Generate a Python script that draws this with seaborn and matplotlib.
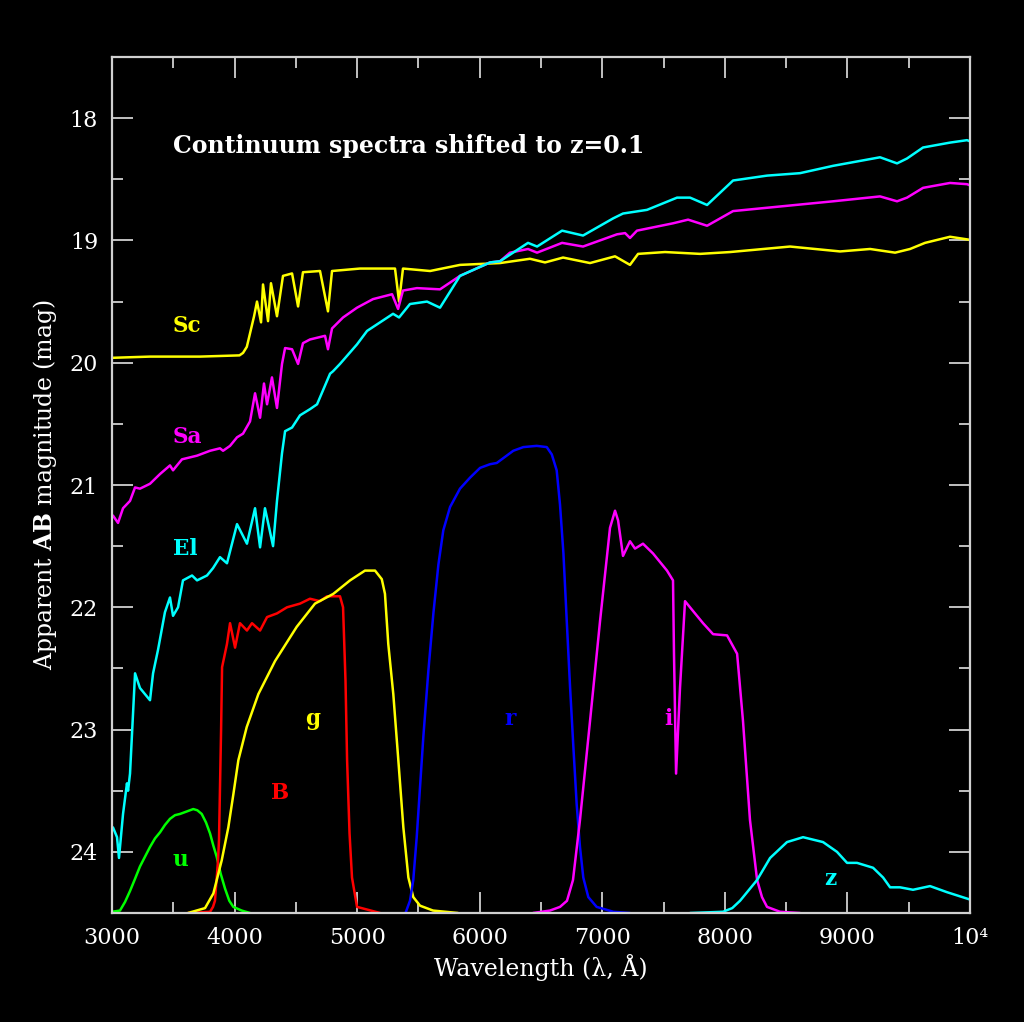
import matplotlib
matplotlib.use("Agg")
import matplotlib.pyplot as plt
from matplotlib.ticker import MultipleLocator, FixedLocator
import seaborn as sns
import pandas as pd

# ---------------- data (wavelength in Angstrom, AB magnitude) ----------------
sc_wave = [3000, 3310, 3718, 4040, 4069, 4100, 4126, 4159, 4183, 4216, 4232, 4273, 4297, 4346, 4395,
           4469, 4518, 4558, 4697, 4762, 4795, 5023, 5309, 5342, 5374, 5595, 5840,
           6166, 6410, 6533, 6680, 6900, 7104, 7226, 7292, 7512, 7798, 8042, 8532,
           8940, 9185, 9389, 9511, 9633, 9837, 10000]
sc_mag = [19.96, 19.95, 19.95, 19.94, 19.92, 19.87, 19.76, 19.62, 19.50, 19.67, 19.36, 19.66, 19.35, 19.62, 19.29,
          19.27, 19.54, 19.26, 19.25, 19.58, 19.25, 19.23, 19.23, 19.50, 19.23, 19.25, 19.20,
          19.185, 19.15, 19.18, 19.14, 19.185, 19.13, 19.20, 19.11, 19.095, 19.11, 19.095, 19.05,
          19.09, 19.07, 19.10, 19.07, 19.02, 18.97, 18.995]

sa_wave = [3008, 3049, 3090, 3147, 3188, 3228, 3310, 3392, 3473, 3498, 3530, 3571, 3694, 3800,
           3881, 3906, 3963, 4020, 4069, 4126, 4167, 4208, 4240, 4265, 4305, 4346, 4387, 4412,
           4469, 4518, 4558, 4615, 4738, 4762, 4795, 4885, 4999, 5129, 5285, 5334, 5374, 5488,
           5676, 5839, 6084, 6166, 6247, 6394, 6468, 6672, 6843, 7120, 7186, 7226, 7283, 7577,
           7700, 7855, 8067, 8475, 8883, 9266, 9405, 9486, 9617, 9837, 9976, 10000]
sa_mag = [21.25, 21.31, 21.19, 21.13, 21.02, 21.03, 20.99, 20.91, 20.84, 20.88, 20.84, 20.79, 20.76, 20.72,
          20.70, 20.72, 20.68, 20.61, 20.58, 20.48, 20.25, 20.45, 20.17, 20.34, 20.12, 20.37, 20.01, 19.88,
          19.89, 20.01, 19.84, 19.81, 19.78, 19.89, 19.72, 19.63, 19.55, 19.48, 19.44, 19.56, 19.41, 19.39,
          19.40, 19.29, 19.18, 19.17, 19.10, 19.07, 19.10, 19.02, 19.05, 18.95, 18.94, 18.98, 18.92, 18.86,
          18.83, 18.88, 18.76, 18.72, 18.68, 18.64, 18.68, 18.65, 18.57, 18.53, 18.54, 18.55]

el_wave = [3008, 3041, 3057, 3090, 3122, 3131, 3147, 3188, 3228, 3310, 3335, 3375, 3432, 3473,
           3498, 3539, 3579, 3653, 3694, 3775, 3824, 3881, 3938, 4020, 4101, 4167, 4208, 4248,
           4314, 4346, 4387, 4412, 4469, 4534, 4615, 4673, 4779, 4803, 4860, 4999, 5081, 5187,
           5293, 5342, 5431, 5570, 5676, 5839, 6084, 6166, 6394, 6468, 6672, 6843, 7088, 7169,
           7365, 7610, 7716, 7855, 8067, 8344, 8613, 8883, 9266, 9405, 9486, 9617, 9837, 9976, 10000]
el_mag = [23.80, 23.88, 24.05, 23.69, 23.44, 23.50, 23.36, 22.54, 22.66, 22.76, 22.54, 22.35, 22.04, 21.92,
          22.07, 22.00, 21.78, 21.74, 21.78, 21.74, 21.68, 21.59, 21.64, 21.32, 21.48, 21.19, 21.51, 21.19,
          21.50, 21.13, 20.74, 20.56, 20.53, 20.43, 20.38, 20.34, 20.09, 20.07, 20.01, 19.85, 19.74, 19.67,
          19.60, 19.63, 19.52, 19.50, 19.55, 19.29, 19.18, 19.17, 19.02, 19.05, 18.92, 18.96, 18.82, 18.78,
          18.75, 18.65, 18.65, 18.71, 18.51, 18.47, 18.45, 18.39, 18.32, 18.37, 18.33, 18.24, 18.20, 18.18, 18.19]

u_wave = [3000, 3065, 3106, 3147, 3188, 3228, 3269, 3310, 3351, 3392, 3432, 3473, 3514, 3555,
          3609, 3663, 3696, 3732, 3767, 3800, 3827, 3854, 3887, 3922, 3957, 3990, 4058, 4126]
u_mag = [24.49, 24.48, 24.41, 24.32, 24.22, 24.12, 24.04, 23.96, 23.89, 23.84, 23.78, 23.73, 23.70, 23.69,
         23.67, 23.65, 23.66, 23.69, 23.76, 23.85, 23.95, 24.04, 24.18, 24.30, 24.40, 24.45, 24.48, 24.50]

b_wave = [3620, 3800, 3824, 3840, 3865, 3873, 3890, 3898, 3938, 3963, 4004, 4044, 4101, 4142, 4208, 4265,
          4346, 4428, 4534, 4615, 4697, 4754, 4860, 4885, 4905, 4918, 4938, 4958, 4999, 5187]
b_mag = [24.50, 24.49, 24.45, 24.40, 24.07, 23.90, 23.00, 22.49, 22.30, 22.13, 22.33, 22.13, 22.19, 22.13, 22.19, 22.08,
         22.05, 22.00, 21.97, 21.93, 21.95, 21.91, 21.91, 22.00, 22.60, 23.25, 23.85, 24.21, 24.45, 24.50]

g_wave = [3620, 3759, 3827, 3895, 3949, 3990, 4031, 4099, 4194, 4330, 4507, 4656, 4806, 4942,
          5064, 5146, 5201, 5227, 5254, 5295, 5336, 5377, 5418, 5458, 5513, 5619, 5823]
g_mag = [24.50, 24.46, 24.34, 24.07, 23.80, 23.53, 23.25, 22.98, 22.71, 22.44, 22.16, 21.97, 21.89, 21.78,
         21.70, 21.70, 21.77, 21.89, 22.30, 22.71, 23.25, 23.80, 24.21, 24.37, 24.44, 24.48, 24.50]

r_wave = [5391, 5431, 5458, 5486, 5513, 5540, 5581, 5622, 5663, 5703, 5758, 5839, 5921, 6003,
          6084, 6139, 6193, 6274, 6356, 6465, 6547, 6588, 6628, 6655, 6683, 6710, 6737, 6764,
          6791, 6818, 6845, 6886, 6954, 7090, 7226]
r_mag = [24.51, 24.40, 24.23, 23.88, 23.47, 23.06, 22.52, 22.05, 21.65, 21.37, 21.18, 21.03, 20.94, 20.86,
         20.83, 20.82, 20.78, 20.72, 20.69, 20.68, 20.69, 20.75, 20.88, 21.16, 21.56, 22.11, 22.65, 23.14,
         23.61, 23.96, 24.21, 24.37, 24.45, 24.49, 24.50]

i_wave = [6435, 6573, 6655, 6712, 6761, 6818, 6900, 6982, 7063, 7104, 7129, 7169, 7226, 7267, 7332, 7414, 7528,
          7577, 7585, 7602, 7634, 7675, 7740, 7822, 7904, 8018, 8100, 8148, 8205, 8263, 8303, 8344, 8450, 8613]
i_mag = [24.50, 24.48, 24.45, 24.40, 24.23, 23.74, 22.93, 22.11, 21.35, 21.21, 21.29, 21.58, 21.46, 21.52, 21.48, 21.56, 21.70,
         21.78, 22.38, 23.36, 22.66, 21.95, 22.03, 22.13, 22.22, 22.23, 22.38, 22.93, 23.74, 24.23, 24.37, 24.45, 24.49, 24.50]

z_wave = [7716, 7985, 8060, 8124, 8263, 8369, 8507, 8638, 8801, 8915, 8997, 9078, 9209, 9291, 9348, 9429,
          9535, 9674, 9813, 10000]
z_mag = [24.50, 24.49, 24.46, 24.40, 24.23, 24.05, 23.92, 23.88, 23.92, 24.00, 24.09, 24.09, 24.13, 24.21, 24.29, 24.29,
         24.31, 24.28, 24.33, 24.39]

label_names = ["Sc", "Sa", "El", "u", "B", "g", "r", "i", "z"]
label_wave = [3612, 3612, 3596, 3555, 4371, 4640, 6247, 7537, 8858]
label_mag = [19.70, 20.61, 21.52, 24.07, 23.52, 22.91, 22.91, 22.91, 24.22]

x_ticks = [3000, 4000, 5000, 6000, 7000, 8000, 9000, 10000]
x_ticklabels = ["3000", "4000", "5000", "6000", "7000", "8000", "9000", "10\u2074"]
y_ticks = [18, 19, 20, 21, 22, 23, 24]

title_text = "Continuum spectra shifted to z=0.1"
xlabel_text = "Wavelength (λ, Å)"
ylabel_text = r"Apparent $\mathbf{AB}$ magnitude (mag)"

# ---------------- style ----------------
YEL, MAG, CYA, GRN, RED, BLU = "#ffff00", "#ff00ff", "#00ffff", "#00ff00", "#ff0000", "#0000ff"
FRAME = "#d0d0d0"

sns.set_theme(style="dark")
plt.rcParams["font.family"] = ["DejaVu Serif", "DejaVu Sans"]
plt.rcParams["mathtext.fontset"] = "dejavuserif"

fig = plt.figure(figsize=(10.24, 10.22), dpi=100, facecolor="black")
ax = fig.add_axes([112 / 1024, 109 / 1022, 858 / 1024, 856 / 1022])
ax.set_facecolor("black")

curves = [
    (sc_wave, sc_mag, YEL), (sa_wave, sa_mag, MAG), (el_wave, el_mag, CYA),
    (u_wave, u_mag, GRN), (b_wave, b_mag, RED), (g_wave, g_mag, YEL),
    (r_wave, r_mag, BLU), (i_wave, i_mag, MAG), (z_wave, z_mag, CYA),
]
for w, m, c in curves:
    df = pd.DataFrame({"wave": w, "mag": m})
    sns.lineplot(data=df, x="wave", y="mag", color=c, linewidth=1.8,
                 sort=False, estimator=None, ax=ax)

label_colors = [YEL, MAG, CYA, GRN, RED, YEL, BLU, MAG, CYA]
for name, lw, lm, c in zip(label_names, label_wave, label_mag, label_colors):
    ax.text(lw, lm, name, color=c, fontsize=15.5, fontweight="bold",
            ha="center", va="center")

ax.text(3498, 18.23, title_text, color="white", fontsize=17, fontweight="bold",
        ha="left", va="center")

ax.set_xlim(3000, 10000)
ax.set_ylim(24.5, 17.5)

ax.xaxis.set_major_locator(FixedLocator(x_ticks))
ax.set_xticklabels(x_ticklabels)
ax.xaxis.set_minor_locator(MultipleLocator(500))
ax.yaxis.set_major_locator(FixedLocator(y_ticks))
ax.yaxis.set_minor_locator(MultipleLocator(0.5))

ax.tick_params(which="both", direction="in", top=True, right=True,
               bottom=True, left=True, color=FRAME, labelcolor="white",
               labelsize=16, width=1.3)
ax.tick_params(which="major", length=15, pad=10)
ax.tick_params(which="minor", length=8)

for sp in ax.spines.values():
    sp.set_color(FRAME)
    sp.set_linewidth(1.6)

ax.grid(False)
ax.set_xlabel(xlabel_text, color="white", fontsize=17, labelpad=4)
ax.set_ylabel(ylabel_text, color="white", fontsize=17, labelpad=8)

fig.savefig("out.png", dpi=100, facecolor="black")
